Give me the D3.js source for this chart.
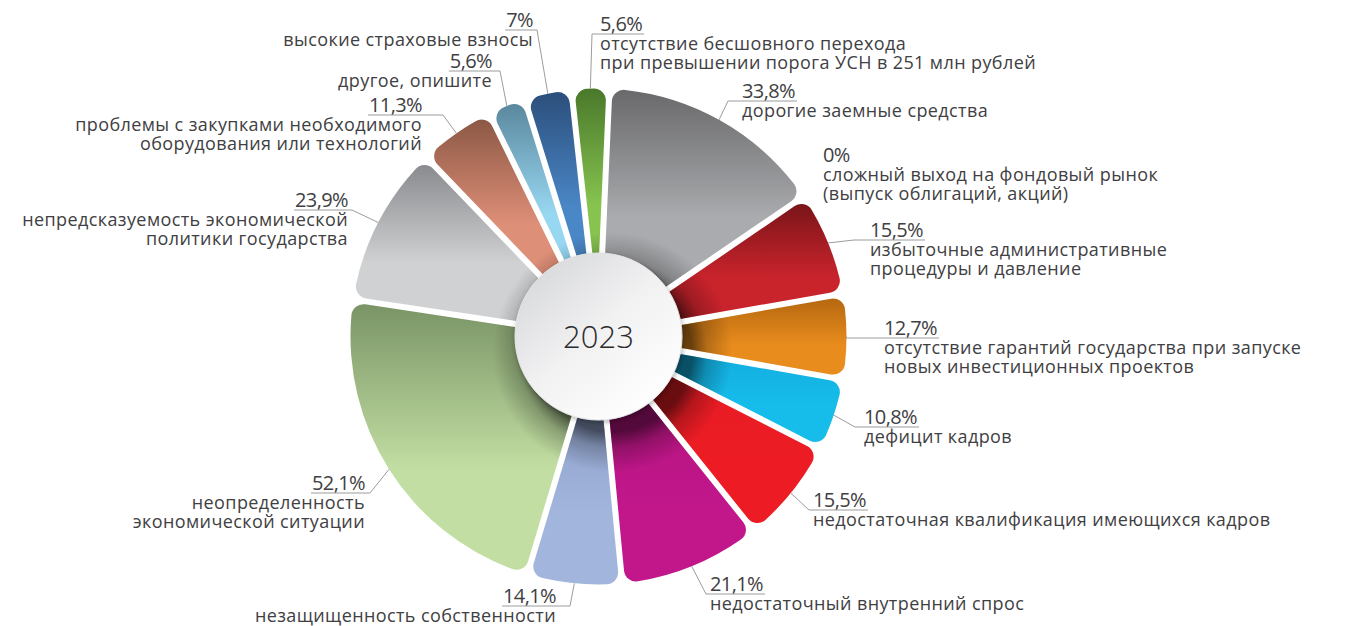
<!DOCTYPE html>
<html>
<head>
<meta charset="utf-8">
<script src="https://cdn.jsdelivr.net/npm/d3@7"></script>
<style>
	html, body { margin: 0; padding: 0; background: #fff; }
	#app { width: 1351px; height: 626px; }
	text { font-family: 'Open Sans', 'Noto Sans', sans-serif; fill: #404042; }
</style>
</head>
<body>
<div id="app"></div>
<script>

// data, clockwise from 12 o'clock
var categories = [
	['дорогие заемные средства'],
	['сложный выход на фондовый рынок', '(выпуск облигаций, акций)'],
	['избыточные административные', 'процедуры и давление'],
	['отсутствие гарантий государства при запуске', 'новых инвестиционных проектов'],
	['дефицит кадров'],
	['недостаточная квалификация имеющихся кадров'],
	['недостаточный внутренний спрос'],
	['незащищенность собственности'],
	['неопределенность', 'экономической ситуации'],
	['непредсказуемость экономической', 'политики государства'],
	['проблемы с закупками необходимого', 'оборудования или технологий'],
	['другое, опишите'],
	['высокие страховые взносы'],
	['отсутствие бесшовного перехода', 'при превышении порога УСН в 251 млн рублей']
]
var values = [33.8, 0, 15.5, 12.7, 10.8, 15.5, 21.1, 14.1, 52.1, 23.9, 11.3, 5.6, 7, 5.6]
var centerLabel = '2023'

// palette: darker top colour, lighter bottom colour per slice
var colorTop = ['#69696b', '#888888', '#7a1519', '#b5680f', '#12ade0', '#e61c24', '#b5137f', '#8d9fc8',
	'#7a9466', '#8a8b8e', '#8c5845', '#5a889e', '#2b4e7b', '#4a782b']
var colorBottom = ['#aaabae', '#888888', '#c9232c', '#e98c1e', '#16bdea', '#ed1c24', '#c1178b', '#a2b5dd',
	'#c2dea2', '#d0d1d3', '#de8f78', '#98d7f1', '#4a87c6', '#86c34f']

// label layout: text x, percent baseline, elbow x, side
var labelLayout = [
	{ tx: 742, ty: 98, ex: 728, side: 'r' },
	{ tx: 823, ty: 162, ex: null, side: 'r' },
	{ tx: 870, ty: 237, ex: 854, side: 'r' },
	{ tx: 884, ty: 335, ex: 846, side: 'r' },
	{ tx: 864, ty: 424, ex: 855, side: 'r' },
	{ tx: 813, ty: 507, ex: 809, side: 'r' },
	{ tx: 710, ty: 591, ex: 706, side: 'r' },
	{ tx: 556, ty: 603, ex: 570, side: 'l' },
	{ tx: 365, ty: 490, ex: 370, side: 'l' },
	{ tx: 348, ty: 207, ex: 352, side: 'l' },
	{ tx: 422, ty: 112, ex: 443, side: 'l' },
	{ tx: 492, ty: 68, ex: 500, side: 'l' },
	{ tx: 533, ty: 27, ex: 537, side: 'l' },
	{ tx: 600, ty: 31, ex: 592, side: 'r' }
]

var width = 1351
var height = 626
var cx = 598.5
var cy = 336.5
var outerR = 248
var holeR = 83.5

var svg = d3.select('#app').append('svg')
	.attr('width', width)
	.attr('height', height)

var defs = svg.append('defs')

values.forEach(function(v, i) {
	var g = defs.append('linearGradient')
		.attr('id', 'grad' + i)
		.attr('x1', 0).attr('y1', 0).attr('x2', 0).attr('y2', 1)
	g.append('stop').attr('offset', 0).attr('stop-color', colorTop[i])
	g.append('stop').attr('offset', 0.62).attr('stop-color', colorBottom[i])
})

// shadow of the centre disc, cast down and to the right
var shade = defs.append('radialGradient')
	.attr('id', 'shade')
	.attr('gradientUnits', 'userSpaceOnUse')
	.attr('cx', 14).attr('cy', 16).attr('r', 120)
shade.append('stop').attr('offset', 0.66).attr('stop-color', '#000').attr('stop-opacity', 0.55)
shade.append('stop').attr('offset', 0.79).attr('stop-color', '#000').attr('stop-opacity', 0.22)
shade.append('stop').attr('offset', 1).attr('stop-color', '#000').attr('stop-opacity', 0)

var disc = defs.append('linearGradient')
	.attr('id', 'disc')
	.attr('x1', 0.1).attr('y1', 0.05).attr('x2', 0.85).attr('y2', 0.9)
disc.append('stop').attr('offset', 0).attr('stop-color', '#d6d7da')
disc.append('stop').attr('offset', 0.5).attr('stop-color', '#f1f1f2')
disc.append('stop').attr('offset', 1).attr('stop-color', '#ffffff')

var shadow = defs.append('filter').attr('id', 'shadow')
	.attr('x', '-30%').attr('y', '-30%').attr('width', '160%').attr('height', '160%')
shadow.append('feDropShadow')
	.attr('dx', 1).attr('dy', 2).attr('stdDeviation', 2.5)
	.attr('flood-color', '#000').attr('flood-opacity', 0.3)

var startA = 0.044
var pie = d3.pie().sort(null).value(function(d) { return d })
	.startAngle(startA).endAngle(startA + 2 * Math.PI)
var arc = d3.arc()
	.innerRadius(60)
	.outerRadius(outerR)
	.cornerRadius(12)
	.padAngle(0.05)
	.padRadius(120)

var arcs = pie(values)

var g = svg.append('g').attr('transform', 'translate(' + cx + ',' + cy + ')')

g.selectAll('.slice').data(arcs)
	.enter().append('path')
	.attr('class', 'slice')
	.attr('d', arc)
	.attr('fill', function(d, i) { return 'url(#grad' + i + ')' })

g.selectAll('.shade').data(arcs)
	.enter().append('path')
	.attr('class', 'shade')
	.attr('d', arc)
	.attr('fill', 'url(#shade)')

g.append('circle')
	.attr('r', holeR)
	.attr('fill', 'url(#disc)')
	.attr('stroke', '#e4e4e6')
	.attr('stroke-width', 1)
	.attr('filter', 'url(#shadow)')

g.append('text')
	.attr('text-anchor', 'middle')
	.attr('y', 11)
	.style('font-size', '31px')
	.style('font-weight', 300)
	.style('fill', '#2b2b2d')
	.text(centerLabel)

// labels
var labels = svg.append('g')

arcs.forEach(function(d, i) {
	var lay = labelLayout[i]
	var anchor = lay.side === 'r' ? 'start' : 'end'
	var pct = labels.append('text')
		.attr('x', lay.tx)
		.attr('y', lay.ty)
		.attr('text-anchor', anchor)
		.style('font-size', '20px')
		.style('letter-spacing', '-0.6px')
		.text(String(d.data).replace('.', ',') + '%')

	categories[i].forEach(function(line, j) {
		labels.append('text')
			.attr('x', lay.tx)
			.attr('y', lay.ty + 19 + j * 18.5)
			.attr('text-anchor', anchor)
			.style('font-size', '18px')
			.style('letter-spacing', '0.4px')
			.text(line)
	})

	if (lay.ex === null) return

	var pw = pct.node().getComputedTextLength()
	var a = (d.startAngle + d.endAngle) / 2
	var px = outerR * Math.sin(a) + cx
	var py = -outerR * Math.cos(a) + cy
	var uy = lay.ty + 3
	var endX = lay.side === 'r' ? lay.tx + pw + 2 : lay.tx - pw - 1

	labels.append('path')
		.attr('d', d3.line()([[px, py], [lay.ex, uy], [endX, uy]]))
		.attr('fill', 'none')
		.attr('stroke', '#9c9c9e')
		.attr('stroke-width', 1)
})

</script>
</body>
</html>
